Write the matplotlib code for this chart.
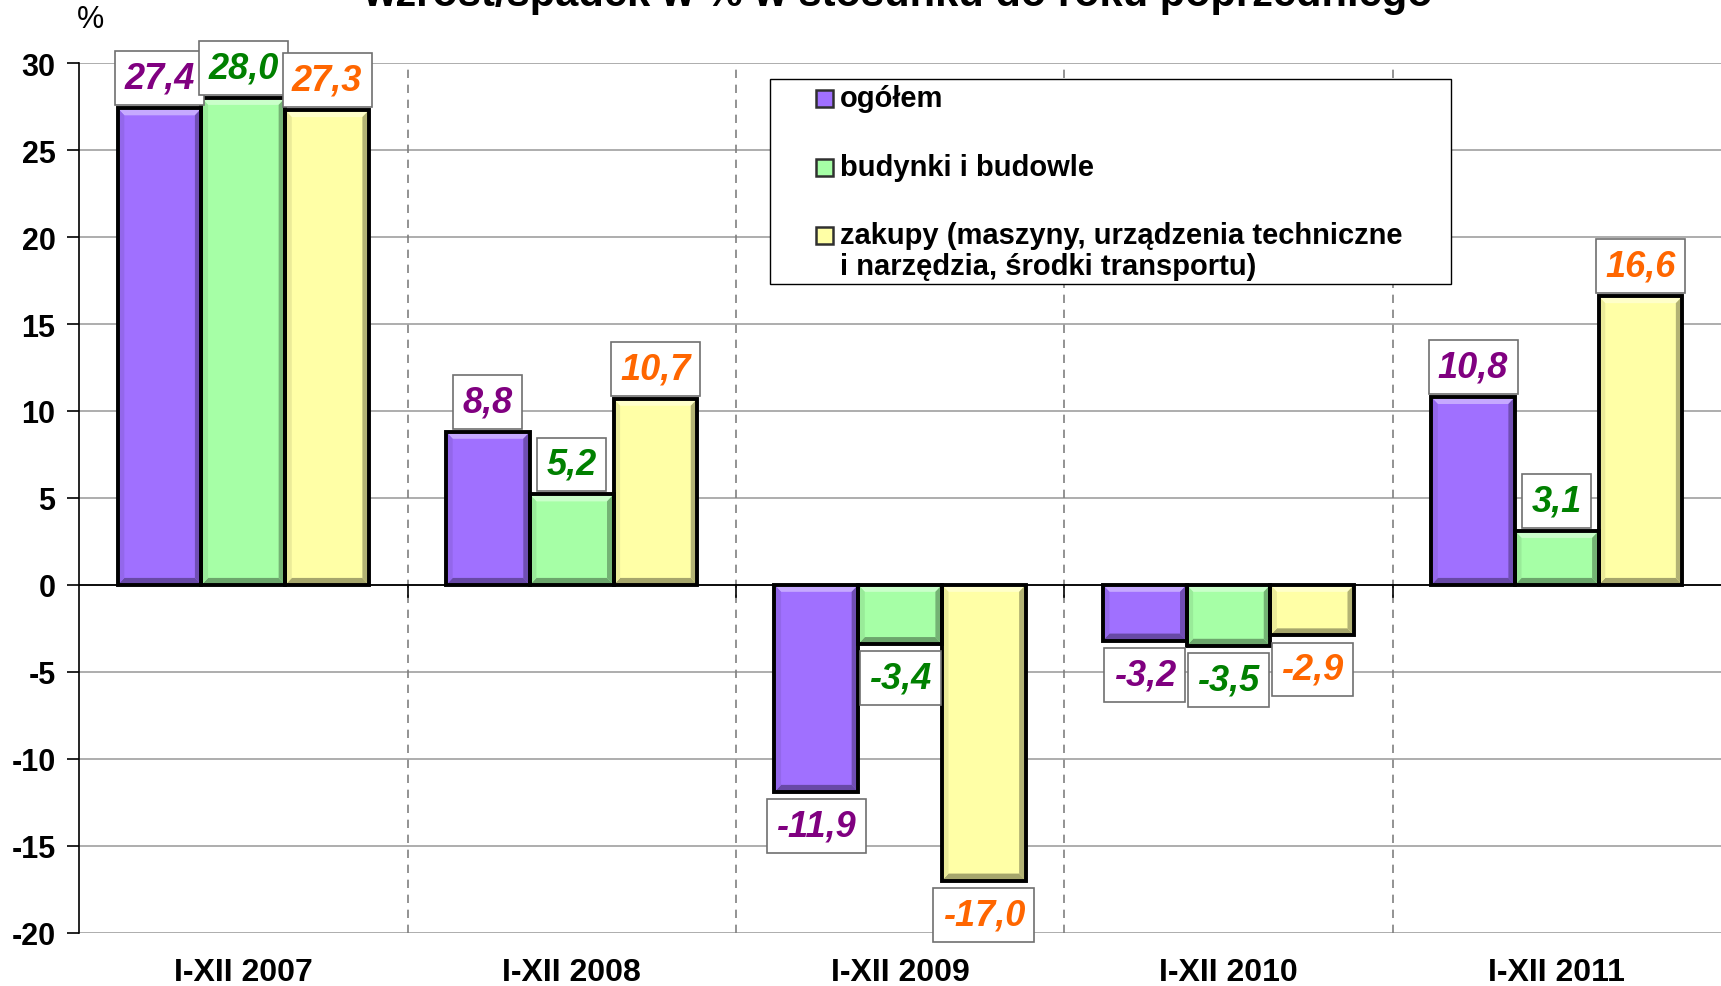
import numpy as np
import matplotlib.pyplot as plt
from matplotlib.patches import Polygon, Rectangle
from matplotlib.colors import to_rgb

plt.rcParams['font.family'] = ['Liberation Sans', 'DejaVu Sans']
plt.rcParams['axes.unicode_minus'] = False

categories = ["I-XII 2007", "I-XII 2008", "I-XII 2009", "I-XII 2010", "I-XII 2011"]
ogolem = [27.4, 8.8, -11.9, -3.2, 10.8]
budynki = [28.0, 5.2, -3.4, -3.5, 3.1]
zakupy = [27.3, 10.7, -17.0, -2.9, 16.6]
series_names = ["ogółem", "budynki i budowle",
                "zakupy (maszyny, urządzenia techniczne\ni narzędzia, środki transportu)"]
title = "wzrost/spadek w % w stosunku do roku poprzedniego"

bar_colors = ["#A070FF", "#A6FFA6", "#FFFFA6"]
label_colors = ["#800080", "#008000", "#FF6600"]

W, H = 1721, 987


def mix(c, other, t):
    c = np.array(to_rgb(c))
    o = np.array(to_rgb(other))
    return tuple(c * (1 - t) + o * t)


def fpx(px, py):
    # pixel position (from top-left) -> figure fraction
    return px / W, 1 - py / H


fig = plt.figure(figsize=(W / 100, H / 100), dpi=100)
ax = fig.add_axes([0.046, 0.054, 0.954, 0.881])
ax.set_xlim(-0.5, 4.5)
ax.set_ylim(-20, 30)

x = np.arange(len(categories))
width = 0.255
offsets = [-width, 0, width]
all_series = [ogolem, budynki, zakupy]

for yv in range(-20, 31, 5):
    ax.axhline(yv, color="#A0A0A0", lw=1.2, zorder=0)
for b in np.arange(0.5, len(categories) - 0.5, 1):
    ax.axvline(b, color="#808080", lw=1.2, dashes=(5, 4), zorder=0.5)
ax.axhline(0, color="black", lw=1.3, zorder=1)

bdx, bdy = 0.02, 0.4
for vals, off, col, lcol in zip(all_series, offsets, bar_colors, label_colors):
    xs = x + off
    ax.bar(xs, vals, width, color=col, edgecolor="none", zorder=2)
    # bevel faces
    for xc, v in zip(xs, vals):
        x0, x1 = xc - width / 2, xc + width / 2
        top, bot = max(v, 0), min(v, 0)
        ax.add_patch(Polygon([(x0, top), (x1, top), (x1 - bdx, top - bdy), (x0 + bdx, top - bdy)],
                             closed=True, fc=mix(col, "white", 0.4), ec="none", zorder=2.1))
        ax.add_patch(Polygon([(x1, top), (x1, bot), (x1 - bdx, bot + bdy), (x1 - bdx, top - bdy)],
                             closed=True, fc=mix(col, "black", 0.3), ec="none", zorder=2.1))
        ax.add_patch(Polygon([(x0, bot), (x1, bot), (x1 - bdx, bot + bdy), (x0 + bdx, bot + bdy)],
                             closed=True, fc=mix(col, "black", 0.35), ec="none", zorder=2.1))
        ax.add_patch(Polygon([(x0, top), (x0, bot), (x0 + bdx, bot + bdy), (x0 + bdx, top - bdy)],
                             closed=True, fc=mix(col, "black", 0.08), ec="none", zorder=2.1))
    ax.bar(xs, vals, width, fill=False, edgecolor="black", lw=2.8, zorder=2.2)
    for xc, v in zip(xs, vals):
        txt = f"{v:.1f}".replace(".", ",")
        if v >= 0:
            xy_off, va = (0, 9), "bottom"
        else:
            xy_off, va = (0, -12), "top"
        ax.annotate(txt, (xc, v), xytext=xy_off, textcoords="offset points",
                    ha="center", va=va, fontsize=26, fontweight="bold", fontstyle="italic",
                    color=lcol, zorder=4,
                    bbox=dict(boxstyle="square,pad=0.26", fc="white", ec="#707070", lw=1.2))

ax.spines["top"].set_visible(False)
ax.spines["right"].set_visible(False)
ax.spines["bottom"].set_visible(False)
ax.spines["left"].set_color("black")
ax.spines["left"].set_linewidth(1.2)
ax.set_yticks(range(-20, 31, 5))
ax.tick_params(axis="y", labelsize=22, length=9, width=1.2, pad=8)
for t in ax.get_yticklabels():
    t.set_fontweight("bold")
ax.set_xticks([])
for b in np.arange(0.5, len(categories) - 0.5, 1):
    ax.plot([b, b], [0, -0.7], color="black", lw=1.2, zorder=1)

for xc, c in zip(x, categories):
    xf = ax.transData.transform((xc, 0))[0] / W
    fig.text(xf, 1 - 981 / H, c, ha="center", va="baseline", fontsize=23, fontweight="bold")

# legend drawn by hand so the handle of the two-line entry sits on its first line
lx0, ly0 = fpx(770, 80)
lx1, ly1 = fpx(1451, 285)
fig.patches.append(Rectangle((lx0, ly1), lx1 - lx0, ly0 - ly1, transform=fig.transFigure,
                             fc="white", ec="black", lw=1.0, zorder=3))
entry_y = [99, 168, 236]
for name, col, ey in zip(series_names, bar_colors, entry_y):
    hx, hy = fpx(816, ey + 9)
    fig.patches.append(Rectangle((hx, hy), 17 / W, 17 / H, transform=fig.transFigure,
                                 fc=col, ec="#303030", lw=1.8, zorder=4))
    tx, ty = fpx(840, ey - 14)
    fig.text(tx, ty, name, ha="left", va="top", fontsize=21, fontweight="bold",
             zorder=5, linespacing=1.15)

fig.text(*fpx(90, 20), "%", fontsize=22, ha="center", va="center")
fig.text(0.522, 1 - 6 / H, title, fontsize=30, fontweight="bold", ha="center", va="baseline")

fig.savefig("out.png", dpi=100)
